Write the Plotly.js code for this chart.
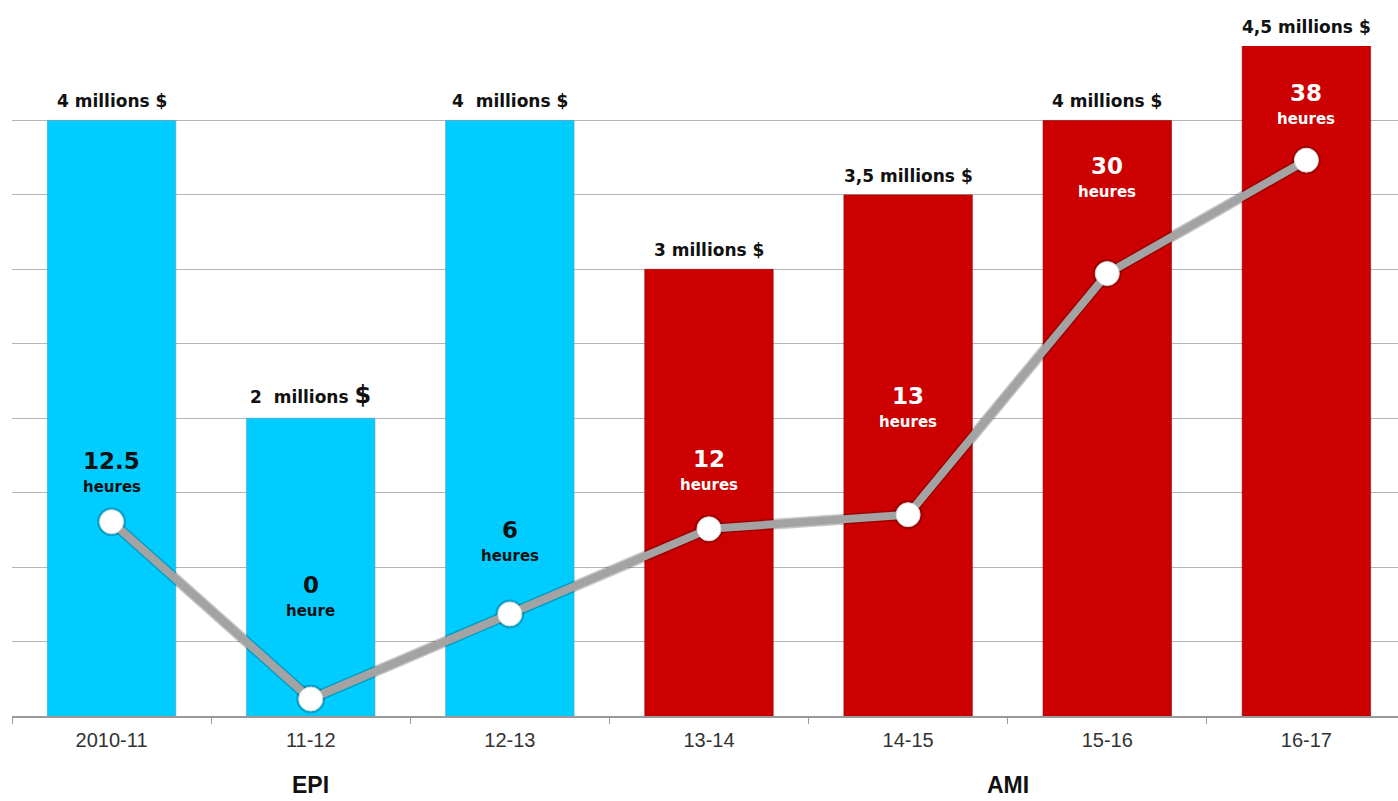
<!DOCTYPE html>
<html>
<head>
<meta charset="utf-8">
<script src="https://cdn.plot.ly/plotly-3.0.1.min.js"></script>
<style>html,body{margin:0;padding:0;background:#fff;}#chart{width:1398px;height:801px;}</style>
</head>
<body>
<div id="chart"></div>
<script>
// ---- data ----
const periods = ["2010-11", "11-12", "12-13", "13-14", "14-15", "15-16", "16-17"];
const budgetMillions = [4, 2, 4, 3, 3.5, 4, 4.5];
const budgetLabels = ["4 millions $", "2  millions <span style='font-size:24px'>$</span>", "4  millions $", "3 millions $", "3,5 millions $", "4 millions $", "4,5 millions $"];
const hours = [12.5, 0, 6, 12, 13, 30, 38];
const hourLabels = ["12.5", "0", "6", "12", "13", "30", "38"];
const hourUnits = ["heures", "heure", "heures", "heures", "heures", "heures", "heures"];
const programs = ["EPI", "EPI", "EPI", "AMI", "AMI", "AMI", "AMI"];
const groupLabels = ["EPI", "AMI"];

// ---- styles ----
const colorFor = {EPI: "#00CCFF", AMI: "#CC0000"};
const textColorFor = {EPI: "#111111", AMI: "#ffffff"};
const numberShift = [61, 114, 84, 70, 119, 108, 67]; // px above the point
const unitGap = 26;
const groupPos = {EPI: 1, AMI: 4.5};

const barColors = programs.map(p => colorFor[p]);
const barLine = programs.map(p => p === "EPI" ? "rgba(80,160,190,0.6)" : "rgba(150,0,0,0.6)");

const traces = [
  {
    type: "bar", x: periods, y: budgetMillions, width: 0.645,
    marker: {color: barColors, line: {color: barLine, width: 1}},
    hoverinfo: "skip"
  },
  {
    type: "scatter", mode: "lines+markers", x: periods, y: hours, yaxis: "y2",
    line: {color: "rgba(0,0,0,0.22)", width: 11},
    marker: {size: 29, color: "rgba(0,0,0,0.2)"},
    hoverinfo: "skip"
  },
  {
    type: "scatter", mode: "lines+markers", x: periods, y: hours, yaxis: "y2",
    line: {color: "#a3a3a3", width: 8},
    marker: {size: 24, color: "#ffffff", line: {color: "#d8d8d8", width: 1}},
    hoverinfo: "skip"
  }
];

const annotations = [];
periods.forEach((p, i) => {
  annotations.push({
    x: p, y: budgetMillions[i], xref: "x", yref: "y",
    text: "<b>" + budgetLabels[i] + "</b>", showarrow: false,
    yanchor: "bottom", yshift: 7,
    font: {family: "DejaVu Sans, Verdana, sans-serif", size: 17, color: "#111"}
  });
  const tc = textColorFor[programs[i]];
  annotations.push({
    x: p, y: hours[i], xref: "x", yref: "y2",
    text: "<b>" + hourLabels[i] + "</b>", showarrow: false,
    yanchor: "middle", yshift: numberShift[i],
    font: {family: "DejaVu Sans, Verdana, sans-serif", size: 23, color: tc}
  });
  annotations.push({
    x: p, y: hours[i], xref: "x", yref: "y2",
    text: "<b>" + hourUnits[i] + "</b>", showarrow: false,
    yanchor: "middle", yshift: numberShift[i] - unitGap,
    font: {family: "DejaVu Sans, Verdana, sans-serif", size: 15, color: tc}
  });
});
groupLabels.forEach(g => {
  annotations.push({
    x: groupPos[g], y: 0, xref: "x", yref: "paper",
    text: "<b>" + g + "</b>", showarrow: false,
    yanchor: "middle", yshift: -69, borderpad: 0,
    font: {family: "Liberation Sans, Arial, sans-serif", size: 23, color: "#111"}
  });
});

const layout = {
  width: 1398, height: 801,
  margin: {l: 12, r: 0, t: 46, b: 85},
  paper_bgcolor: "#ffffff", plot_bgcolor: "#ffffff",
  showlegend: false, hovermode: false,
  xaxis: {
    type: "category", range: [-0.5, 6.46],
    showline: true, linecolor: "#9a9a9a", linewidth: 1.5,
    ticks: "outside", tickson: "boundaries", ticklen: 6, tickcolor: "#9a9a9a",
    ticklabelstandoff: 5,
    tickfont: {family: "Liberation Sans, Arial, sans-serif", size: 20, color: "#333"},
    showgrid: false, fixedrange: true
  },
  yaxis: {
    range: [0, 4.5], dtick: 0.5, showticklabels: false,
    showgrid: true, gridcolor: "#b5b5b5", gridwidth: 1,
    zeroline: false, fixedrange: true
  },
  yaxis2: {
    overlaying: "y", side: "right", range: [-1.199, 46.05],
    showgrid: false, showticklabels: false, zeroline: false, fixedrange: true
  },
  annotations: annotations
};

Plotly.newPlot("chart", traces, layout, {displayModeBar: false, staticPlot: true});
</script>
</body>
</html>
